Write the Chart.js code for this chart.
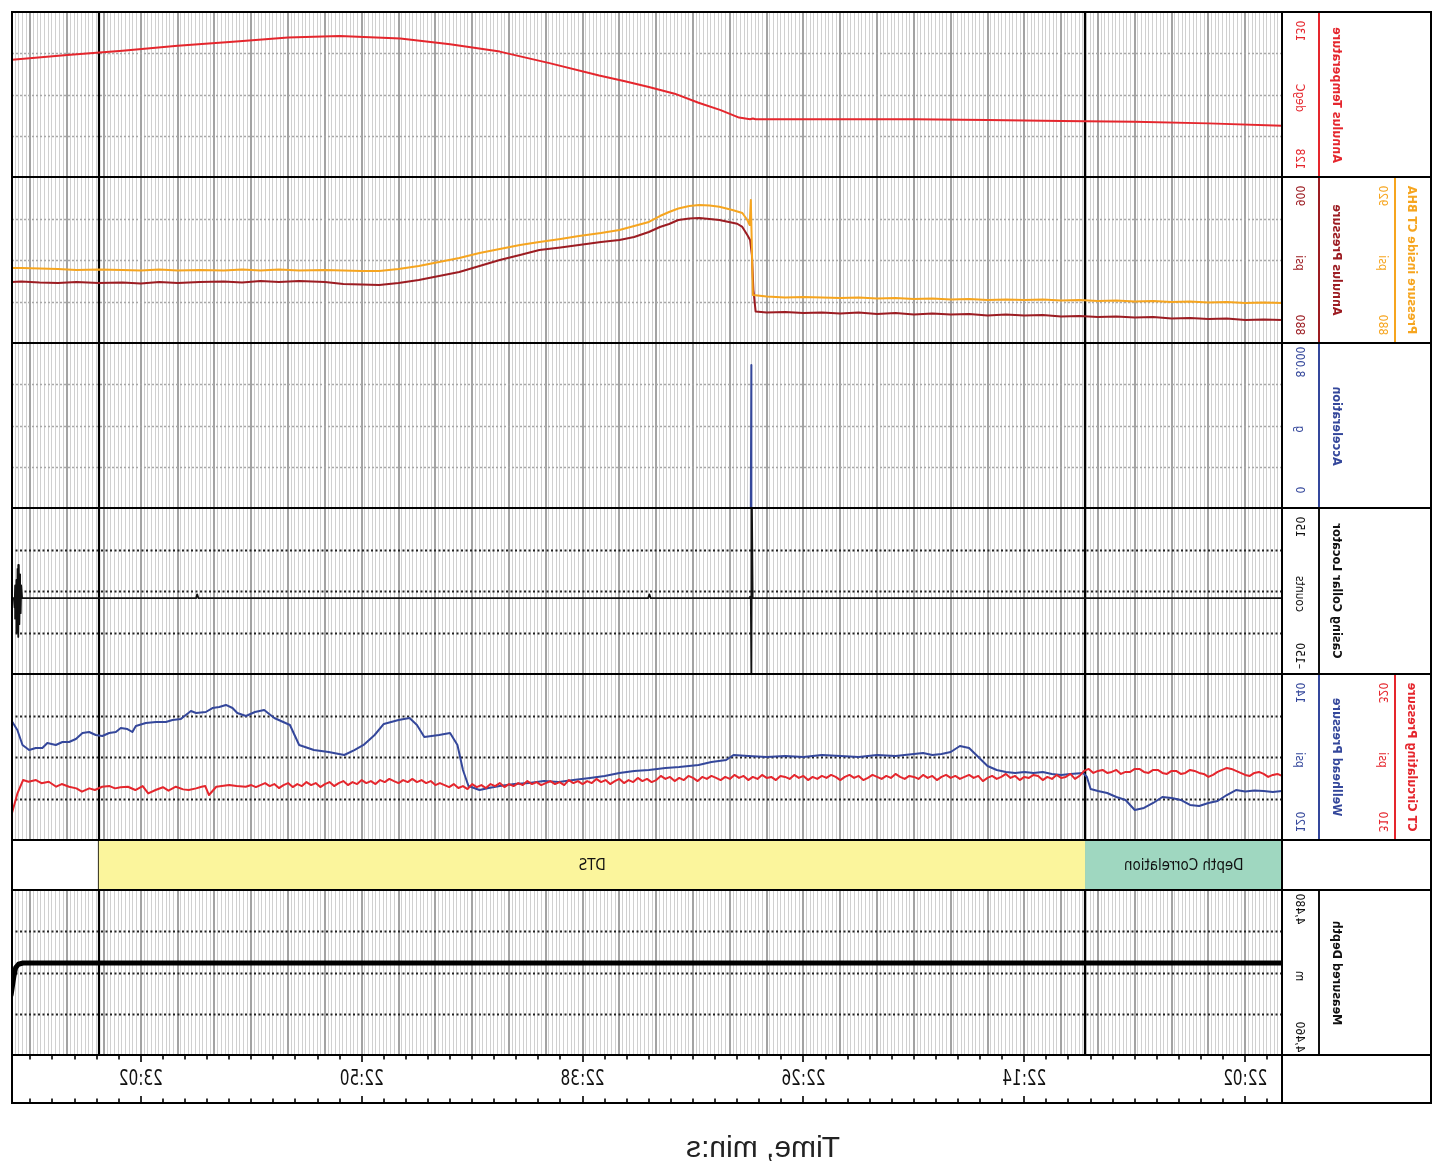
<!DOCTYPE html>
<html><head><meta charset="utf-8">
<script src="https://cdn.jsdelivr.net/npm/chart.js@4.4.1/dist/chart.umd.min.js"></script>
<style>
html,body{margin:0;padding:0;background:#fff;}
#wrap{position:relative;width:1442px;height:1176px;transform:scaleX(-1);transform-origin:721px 0;overflow:hidden;font-family:"Liberation Sans Narrow","DejaVu Sans Condensed","Liberation Sans",sans-serif;}
canvas{position:absolute;display:block}
.ln{position:absolute;background:#000}
.vt{position:absolute;white-space:nowrap;transform:translate(-50%,-50%) rotate(-90deg);line-height:1}
</style></head><body><div id="wrap"></div>
<script>
// ---------------- DATA (time in minutes after 22:00) ----------------
const tempTime = [0,4,8,12,16,20,24,28.6,28.75,28.9,29.5,30.5,31.7,33,34.4,35.7,37.1,39.8,42.5,45.2,47.9,51.2,54,57,60,63,66,69];
const tempVal  = [128.62,128.65,128.67,128.68,128.69,128.70,128.70,128.70,128.71,128.70,128.72,128.81,128.90,129.01,129.09,129.16,129.23,129.38,129.52,129.61,129.68,129.71,129.69,129.64,129.59,129.53,129.48,129.42];

const annTime = [0,1,2,3,4,5,6,7,8,9,10,11,12,13,14,15,16,17,18,19,20,21,22,23,24,25,26,27,28,28.6,28.72,28.8,28.9,29.05,29.32,29.6,30.57,31.1,31.66,32.2,32.8,33.3,33.8,34.4,35.2,36,37,38.2,39.2,40.35,41.4,42.5,43.6,44.7,45.8,46.9,48,49.05,50,51,52,53.4,54.5,55.5,56.5,57.5,58.8,60,61,62,63,64.3,65.5,66.5,67.5,68.5,69];
const annVal  = [882.77,882.83,882.77,882.95,882.89,883.01,882.95,883.13,883.07,883.19,883.13,883.25,883.19,883.37,883.31,883.43,883.31,883.49,883.43,883.55,883.43,883.61,883.49,883.67,883.55,883.67,883.61,883.73,883.67,883.80,886.39,890.60,892.41,893.01,893.98,894.37,894.82,894.94,895.06,895.00,894.82,894.34,893.98,893.37,892.77,892.41,892.17,891.81,891.51,891.21,890.60,890.00,889.28,888.55,888.07,887.59,887.23,886.99,887.05,887.11,887.35,887.47,887.35,887.47,887.29,887.41,887.35,887.23,887.35,887.17,887.29,887.23,887.35,887.23,887.29,887.41,887.35];

const bhaTime = [0,1,2,3,4,5,6,7,8,9,10,11,12,13,14,15,16,17,18,19,20,21,22,23,24,25,26,27,28,28.75,28.8,28.86,28.92,29.05,29.32,29.86,30.57,31.1,31.66,32.2,32.8,33.3,33.8,34.4,35.2,36,37,38.2,39.2,40.35,41.4,42.5,43.6,44.7,45.8,46.9,48,49.05,50,51,52,53.4,54.5,55.5,56.5,57.5,58.8,60,61,62,63,64.3,65.5,66.5,67.5,68.5,69];
const bhaVal  = [889.64,889.76,889.64,889.88,889.76,890.00,889.88,890.12,890.00,890.24,890.12,890.36,890.24,890.48,890.36,890.48,890.36,890.60,890.48,890.72,890.60,890.84,890.72,890.96,890.84,890.96,891.08,890.96,891.20,891.57,902.41,914.46,908.43,909.64,911.33,912.05,912.84,913.13,913.25,913.01,912.41,911.57,910.60,909.16,908.19,907.23,906.51,905.78,905.06,904.34,903.61,902.65,901.69,900.48,899.52,898.55,897.83,897.35,897.35,897.47,897.59,897.47,897.71,897.47,897.71,897.47,897.59,897.47,897.71,897.47,897.59,897.71,897.59,897.83,897.95,898.07,898.07];

const accTime = [0,28.8,28.83,28.86,69];
const accVal  = [0,0,6.93,0,0];

const cclTime = [0,28.76,28.8,28.83,28.86,28.9,34.3,34.37,34.44,58.87,58.94,59.0,68.45,68.5,68.53,68.56,68.6,68.63,68.66,68.7,68.73,68.76,68.8,68.83,68.86,68.9,69.05];
const cclVal  = [-13,-13,160,-160,-10,-13,-13,-6,-13,-13,-6,-13,-13,10,-40,30,-60,47,-83,40,-75,20,-50,10,-30,-13,-13];

const whpTime = [0,0.5,1,1.5,2,2.5,3,3.5,4,4.5,5,5.5,6,6.5,7,7.5,8,8.5,9,9.5,10,10.4,10.6,10.8,11.5,12,12.5,13,13.5,14,14.5,15,15.5,16,16.5,17,17.5,18,18.5,19,19.5,20,21,22,23,24,25,26,27,28,29,29.8,30.2,31,31.7,32.75,33.5,34.4,35.2,36,36.8,37.6,38.5,39.3,40.1,40.9,41.7,42.5,43.1,43.6,44.2,44.5,44.8,45.2,45.8,46.6,47,47.4,48,48.8,49.3,49.9,50.4,50.95,51.8,52.6,53.4,53.9,54.75,55.3,55.8,56.29,56.76,57.02,57.38,57.74,58.11,58.47,59,59.28,59.83,60.28,60.64,61.18,61.73,62.27,62.46,62.73,63.09,63.36,63.72,64.09,64.45,64.81,65.17,65.53,65.9,66.26,66.62,67.08,67.35,67.71,68.07,68.43,68.71,68.98];
const whpVal  = [125.90,125.78,125.90,125.96,125.84,126.02,125.42,124.70,124.46,124.10,124.22,124.82,125.06,125.18,124.46,123.86,123.62,124.82,125.18,125.66,125.90,126.14,127.59,128.07,127.95,127.83,127.95,128.19,128.07,128.19,128.07,128.19,128.43,128.92,130.00,131.08,131.33,130.60,130.36,130.24,130.48,130.36,130.12,130.24,130.00,130.12,130.24,130.00,130.12,130.00,130.12,130.24,129.64,129.40,129.04,128.80,128.67,128.43,128.31,128.07,127.71,127.47,127.23,126.99,127.11,126.87,126.75,126.51,126.27,126.02,126.51,128.43,131.45,132.89,132.65,132.41,133.86,134.70,134.46,133.98,132.65,131.45,130.84,130.24,130.60,130.84,131.45,133.86,134.70,135.66,135.42,134.94,135.30,135.90,136.27,136.02,135.90,135.42,135.30,135.54,134.58,134.46,134.22,134.22,134.10,133.73,133.01,133.37,133.49,133.01,132.89,132.53,132.65,133.01,132.89,132.17,131.81,131.81,131.45,131.69,131.08,131.08,130.84,131.45,133.25,134.22];

const circTime = [0,0.25,0.5,0.75,1,1.25,1.5,1.75,2,2.25,2.5,2.75,3,3.25,3.5,3.75,4,4.25,4.5,4.75,5,5.25,5.5,5.75,6,6.25,6.5,6.75,7,7.25,7.5,7.75,8,8.25,8.5,8.75,9,9.25,9.5,9.75,10,10.25,10.5,10.75,
11,11.25,11.5,11.75,12,12.25,12.5,12.75,13,13.25,13.5,13.75,14,14.25,14.5,14.75,15,15.25,15.5,15.75,16,16.25,16.5,16.75,17,17.25,17.5,17.75,18,18.25,18.5,18.75,19,19.25,19.5,19.75,20,20.25,20.5,20.75,21,21.25,21.5,21.75,22,22.25,22.5,22.75,23,23.25,23.5,23.75,24,24.25,24.5,24.75,25,25.25,25.5,25.75,26,26.25,26.5,26.75,27,27.25,27.5,27.75,28,28.25,28.5,28.75,29,29.25,29.5,29.75,30,30.25,30.5,30.75,31,31.25,31.5,31.75,32,32.25,32.5,32.75,33,33.25,33.5,33.75,34,34.25,34.5,34.75,35,35.25,35.5,35.75,36,36.25,36.5,36.75,37,37.25,37.5,37.75,38,38.25,38.5,38.75,39,39.25,39.5,39.75,40,40.25,40.5,40.75,41,41.25,41.5,41.75,42,42.25,42.5,42.75,43,43.25,43.5,43.75,44,44.25,44.5,44.75,45,45.25,45.5,45.75,46,46.25,46.5,46.75,47,47.25,47.5,47.75,48,48.25,48.5,48.75,49,49.25,49.5,49.75,50,50.25,50.5,50.75,51,51.25,51.5,51.75,52,52.25,52.5,52.75,53,53.25,53.5,53.75,54,54.25,54.5,54.75,55,55.25,55.5,55.75,56,
56.3,56.8,57.2,57.6,57.9,58.3,58.5,58.7,59,59.4,59.7,60.1,60.5,60.8,61.2,61.6,61.9,62.3,62.7,63.1,63.4,63.7,64.1,64.5,64.8,65.2,65.5,65.9,66.3,66.6,67,67.4,67.7,68.1,68.4,68.7,69];
const circVal  = [313.86,313.98,313.92,313.80,313.98,314.10,314.04,313.86,313.92,314.04,314.16,314.28,314.34,314.22,314.10,313.92,313.80,313.98,314.04,314.16,314.22,314.04,313.98,314.16,314.16,313.98,314.04,314.22,314.22,314.04,314.10,314.28,314.28,314.10,314.10,313.98,314.22,314.10,314.04,314.22,314.16,314.04,314.28,314.16,
313.86,313.68,313.98,313.80,313.74,313.92,313.68,313.80,313.61,313.86,313.92,313.74,313.80,313.61,313.86,313.74,313.98,313.80,313.68,313.86,313.74,313.55,313.86,313.74,313.92,313.80,313.68,313.86,313.74,313.92,313.80,313.61,313.86,313.74,313.92,313.68,313.80,313.86,313.68,313.80,313.98,313.74,313.86,313.68,313.80,313.92,313.74,313.61,313.86,313.74,313.92,313.80,313.61,313.80,313.92,313.74,313.86,313.68,313.80,313.61,313.86,313.74,313.92,313.68,313.80,313.86,313.61,313.80,313.74,313.92,313.68,313.80,313.61,313.86,313.74,313.92,313.68,313.80,313.61,313.74,313.86,313.68,313.80,313.55,313.74,313.86,313.61,313.74,313.55,313.80,313.68,313.86,313.61,313.49,313.68,313.55,313.74,313.49,313.61,313.43,313.68,313.55,313.37,313.61,313.49,313.68,313.43,313.55,313.37,313.55,313.43,313.61,313.31,313.49,313.37,313.55,313.43,313.31,313.49,313.37,313.55,313.31,313.43,313.25,313.37,313.19,313.43,313.25,313.37,313.13,313.31,313.19,313.37,313.07,313.25,313.13,313.37,313.19,313.31,313.43,313.31,313.55,313.43,313.61,313.49,313.68,313.49,313.61,313.43,313.55,313.68,313.49,313.61,313.37,313.55,313.43,313.61,313.37,313.49,313.31,313.55,313.43,313.25,313.49,313.37,313.19,313.43,313.31,313.49,313.25,313.37,313.19,313.43,313.31,313.13,313.37,313.25,313.43,313.31,313.19,313.31,
313.21,313.25,313.31,313.25,313.21,312.71,313.25,313.21,313.11,313.01,313.05,313.21,312.97,313.18,313.01,312.81,313.25,313.01,313.21,313.18,313.11,313.25,313.21,313.01,313.11,312.91,313.11,313.21,313.37,313.21,313.51,313.42,313.61,313.51,313.61,312.83,311.63];

const depthTime = [0,20,40,60,68.4,68.65,68.8,68.9,69.05];
const depthVal  = [4471.15,4471.15,4471.15,4471.15,4471.15,4471.0,4470.6,4469.5,4467.3];

// scales [bottom, top] and their header labels
const tempScale = [128,130],   tempLabels = ['128','130'];
const annScale  = [880,900],   annLabels  = ['880','900'];
const bhaScale  = [880,920],   bhaLabels  = ['880','920'];
const accScale  = [0,8],       accLabels  = ['0','8.000'];
const cclScale  = [-150,150],  cclLabels  = ['\u2013150','150'];
const whpScale  = [120,140],   whpLabels  = ['120','140'];
const circScale = [310,320],   circLabels = ['310','320'];
const depthScale= [4460,4480], depthLabels= ['4,460','4,480'];

const curveNames = ['Annulus Temperature','Annulus Pressure','Pressure inside CT BHA','Acceleration','Casing Collar Locator','Wellhead Pressure','CT Circulating Pressure','Measured Depth'];
const curveUnits = ['degC','psi','psi','g','counts','psi','psi','m'];

const eventTimes = [10.68, 64.27];
const bandLabels = ['Depth Correlation','DTS'];
const bandStart  = [0, 10.68];
const bandEnd    = [10.68, 64.27];

const timeLabelTimes = [2,14,26,38,50,62];
const timeLabels     = ['22:02','22:14','22:26','22:38','22:50','23:02'];
const axisTitle = 'Time, min:s';

// ---------------- STYLE / LAYOUT ----------------
const T_MIN = 0, T_MAX = 69;
const RED='#e5262d', DARKRED='#9c1c22', ORANGE='#f6a51f', BLUE='#34479b', INK='#111111';
const BAND_COLORS = ['#9fd7c0','#fbf59c'];
const PLOT_L = 160, PLOT_W = 1270;
const NARROW = '"Liberation Sans Narrow","DejaVu Sans Condensed","Liberation Sans",sans-serif';
const wrap = document.getElementById('wrap');

function pts(t, v){ return t.map((x,i)=>({x:x, y:v[i]})); }

const gridPlugin = {
  id:'logGrid',
  beforeDatasetsDraw(chart, args, o){
    const {ctx, chartArea:a, scales} = chart;
    const xs = scales.x;
    ctx.save();
    if (o.grid !== false) {
      ctx.lineWidth = 1; ctx.strokeStyle = '#d0d0d0';
      ctx.beginPath();
      for (let k=0; k<=345; k++){
        if (k%10===0) continue;
        const px = Math.round(xs.getPixelForValue(k*0.2)) + 0.5;
        ctx.moveTo(px, a.top); ctx.lineTo(px, a.bottom);
      }
      ctx.stroke();
      ctx.lineWidth = 2; ctx.strokeStyle = '#a3a3a3';
      ctx.beginPath();
      for (let k=0; k<=69; k+=2){
        const px = Math.round(xs.getPixelForValue(k));
        ctx.moveTo(px, a.top); ctx.lineTo(px, a.bottom);
      }
      ctx.stroke();
      const ys = scales.y;
      ctx.lineWidth = o.hWidth || 1.5; ctx.strokeStyle = o.hColor || '#999';
      ctx.setLineDash(o.hDash || [2,2]);
      ctx.beginPath();
      [0.25,0.5,0.75].forEach(f=>{
        const val = ys.min + (ys.max-ys.min)*f;
        const py = Math.round(ys.getPixelForValue(val)) + 0.5;
        ctx.moveTo(a.left, py); ctx.lineTo(a.right, py);
      });
      ctx.stroke();
      ctx.setLineDash([]);
    }
    ctx.lineWidth = 2.2; ctx.strokeStyle = '#000';
    ctx.beginPath();
    eventTimes.forEach(t=>{
      const px = Math.round(xs.getPixelForValue(t));
      ctx.moveTo(px, a.top); ctx.lineTo(px, a.bottom);
    });
    ctx.stroke();
    ctx.restore();
  }
};

function addCanvas(x, y, w, h){
  const c = document.createElement('canvas');
  c.width = w; c.height = h;
  c.style.left = x+'px'; c.style.top = y+'px';
  c.style.width = w+'px'; c.style.height = h+'px';
  wrap.appendChild(c);
  return c;
}

function lineTrack(y0, y1, sets, gridOpt){
  const c = addCanvas(PLOT_L, y0, PLOT_W, y1-y0);
  const scales = { x:{type:'linear', min:T_MIN, max:T_MAX, display:false} };
  sets.forEach((s,i)=>{ scales[i===0?'y':'y'+i] = {type:'linear', min:s.scale[0], max:s.scale[1], display:false}; });
  new Chart(c, {
    type:'line',
    data:{ datasets: sets.map((s,i)=>({
      data: pts(s.t, s.v), yAxisID: i===0?'y':'y'+i,
      borderColor: s.color, borderWidth: s.w || 2, pointRadius:0,
      tension:0, fill:false, borderJoinStyle:'round', borderCapStyle:'round'
    })).reverse() },
    options:{
      animation:false, responsive:false, devicePixelRatio:1,
      layout:{padding:0},
      plugins:{ legend:{display:false}, tooltip:{enabled:false}, logGrid: gridOpt || {} },
      scales
    },
    plugins:[gridPlugin]
  });
}

const GRAY_H = {hColor:'#a8a8a8', hDash:[2,2], hWidth:1.5};
const BLACK_H = {hColor:'#222', hDash:[2,2.5], hWidth:2};

lineTrack(12,177,[{t:tempTime,v:tempVal,scale:tempScale,color:RED}], GRAY_H);
lineTrack(177,343,[{t:annTime,v:annVal,scale:annScale,color:DARKRED},{t:bhaTime,v:bhaVal,scale:bhaScale,color:ORANGE}], GRAY_H);
lineTrack(343,508,[{t:accTime,v:accVal,scale:accScale,color:BLUE}], GRAY_H);
lineTrack(508,674,[{t:cclTime,v:cclVal,scale:cclScale,color:INK,w:1.8}], BLACK_H);
lineTrack(674,840,[{t:whpTime,v:whpVal,scale:whpScale,color:BLUE},{t:circTime,v:circVal,scale:circScale,color:RED}], BLACK_H);
lineTrack(890,1055,[{t:depthTime,v:depthVal,scale:depthScale,color:'#000',w:5}], BLACK_H);

// band row
(function(){
  const c = addCanvas(PLOT_L, 840, PLOT_W, 50);
  const bandText = {
    id:'bandText',
    afterDatasetsDraw(chart){
      const {ctx, scales:{x}, chartArea:a} = chart;
      ctx.save();
      ctx.fillStyle = '#111'; ctx.font = '15px '+NARROW;
      ctx.textAlign='center'; ctx.textBaseline='middle';
      bandLabels.forEach((l,i)=>{
        const cx = (x.getPixelForValue(bandStart[i]) + x.getPixelForValue(bandEnd[i]))/2;
        ctx.fillText(l, cx, (a.top+a.bottom)/2+1);
      });
      ctx.restore();
    }
  };
  new Chart(c, {
    type:'bar',
    data:{ labels:['band'], datasets: bandLabels.map((l,i)=>({
      label:l, data:[[bandStart[i], bandEnd[i]]], backgroundColor:BAND_COLORS[i],
      borderWidth:0, barPercentage:1, categoryPercentage:1, grouped:false }))},
    options:{ indexAxis:'y', animation:false, responsive:false, devicePixelRatio:1,
      layout:{padding:0},
      plugins:{legend:{display:false}, tooltip:{enabled:false}, logGrid:{grid:false}},
      scales:{ x:{type:'linear', min:T_MIN, max:T_MAX, display:false}, y:{display:false} } },
    plugins:[bandText, gridPlugin]
  });
})();

// time axis row
(function(){
  const c = addCanvas(PLOT_L, 1055, PLOT_W, 48);
  const axisPlugin = {
    id:'timeAxis',
    afterDraw(chart){
      const {ctx, scales:{x}, chartArea:a} = chart;
      ctx.save();
      ctx.strokeStyle = '#000'; ctx.lineWidth = 1.6;
      ctx.beginPath();
      for (let k=0; k<=57; k++){
        const t = 0.8 + 1.2*k;
        const major = timeLabelTimes.some(m=>Math.abs(m-t)<1e-6);
        const L = major ? 7 : 4.5;
        const px = Math.round(x.getPixelForValue(t));
        ctx.moveTo(px, a.top); ctx.lineTo(px, a.top+L);
        ctx.moveTo(px, a.bottom); ctx.lineTo(px, a.bottom-L);
      }
      ctx.stroke();
      ctx.fillStyle = '#111';
      ctx.font = '17px '+NARROW;
      ctx.textAlign='center'; ctx.textBaseline='middle';
      timeLabels.forEach((l,i)=>{
        const px = x.getPixelForValue(timeLabelTimes[i]);
        ctx.save(); ctx.translate(px, 25); ctx.scale(1,1.22); ctx.fillText(l, 0, 0); ctx.restore();
      });
      ctx.restore();
    }
  };
  new Chart(c, {
    type:'line', data:{datasets:[{data:[]}]},
    options:{ animation:false, responsive:false, devicePixelRatio:1, layout:{padding:0},
      plugins:{legend:{display:false}, tooltip:{enabled:false}},
      scales:{ x:{type:'linear', min:T_MIN, max:T_MAX, display:false}, y:{display:false, min:0, max:1} } },
    plugins:[axisPlugin]
  });
})();

// ---------------- frame & header ----------------
function rect(x,y,w,h,color){ const d=document.createElement('div'); d.className='ln'; d.style.left=x+'px'; d.style.top=y+'px'; d.style.width=w+'px'; d.style.height=h+'px'; if(color) d.style.background=color; wrap.appendChild(d); }
function vtext(txt, cx, cy, size, color, weight){ const d=document.createElement('div'); d.className='vt'; d.textContent=txt; d.style.left=cx+'px'; d.style.top=cy+'px'; d.style.fontSize=size+'px'; d.style.color=color; d.style.fontFamily=NARROW; if(weight) d.style.fontWeight=weight; wrap.appendChild(d); }

const bounds = [12,177,343,508,674,840,890,1055,1103];
bounds.forEach(y=>rect(10, y-1, 1421, 2));
rect(10, 11, 2, 1093); rect(1429, 11, 2, 1093); rect(159, 11, 2, 1093);

function header(y0, y1, slot, name, unit, labels, color){
  const lineX = slot===0 ? 123 : 47, numX = slot===0 ? 142 : 59, nameX = slot===0 ? 105 : 30;
  rect(lineX-0.75, y0+1, 1.5, y1-y0-2, color);
  vtext(labels[1], numX, y0+19, 12, color);
  vtext(unit, numX, (y0+y1)/2+3, 12, color);
  vtext(labels[0], numX, y1-18, 12, color);
  vtext(name, nameX, (y0+y1)/2, 12.5, color, 'bold');
}
header(12,177,0,curveNames[0],curveUnits[0],tempLabels,RED);
header(177,343,0,curveNames[1],curveUnits[1],annLabels,DARKRED);
header(177,343,1,curveNames[2],curveUnits[2],bhaLabels,ORANGE);
header(343,508,0,curveNames[3],curveUnits[3],accLabels,BLUE);
header(508,674,0,curveNames[4],curveUnits[4],cclLabels,INK);
header(674,840,0,curveNames[5],curveUnits[5],whpLabels,BLUE);
header(674,840,1,curveNames[6],curveUnits[6],circLabels,RED);
header(890,1055,0,curveNames[7],curveUnits[7],depthLabels,INK);

const title = document.createElement('div');
title.textContent = axisTitle;
title.style.cssText = 'position:absolute;left:679px;top:1147px;transform:translate(-50%,-50%);font:30px "Liberation Sans",Arial,sans-serif;color:#222;white-space:nowrap';
wrap.appendChild(title);
</script></body></html>
